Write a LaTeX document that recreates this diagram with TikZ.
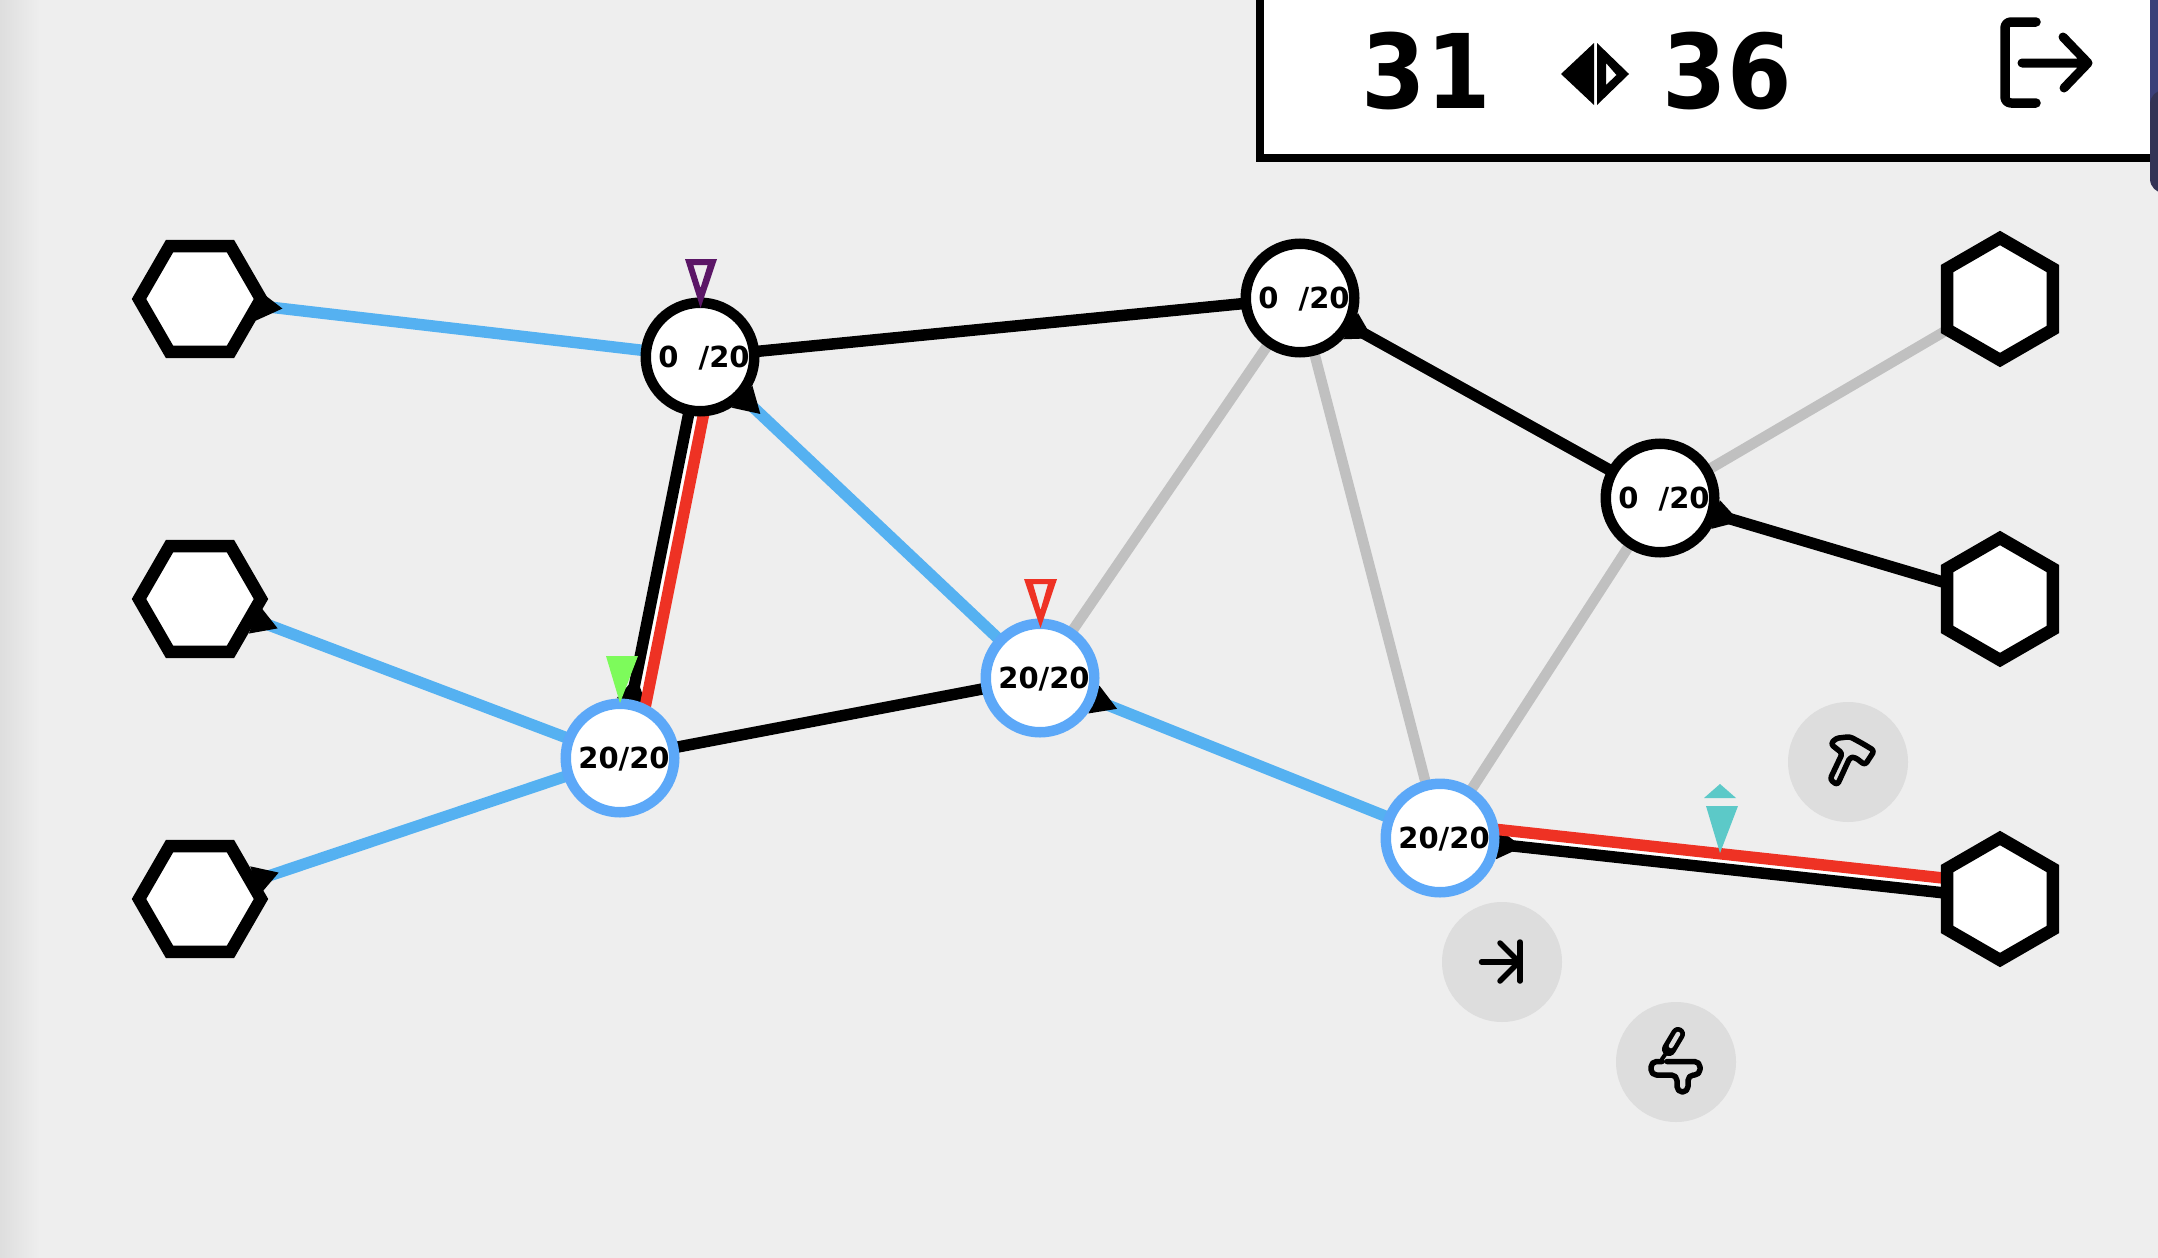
\documentclass[tikz,border=0pt]{standalone}
\usepackage{fontspec}
\setmainfont{DejaVu Sans}[BoldFont={DejaVu Sans Bold}]
\newfontfamily\condf{DejaVu Sans Condensed}[BoldFont={DejaVu Sans Condensed Bold}]
\usetikzlibrary{shapes.geometric,calc}
\definecolor{bgc}{HTML}{EEEEEE}
\definecolor{bluee}{HTML}{55B1F1}
\definecolor{bluen}{HTML}{5CA8F8}
\definecolor{grayy}{HTML}{C0C0C0}
\definecolor{redd}{HTML}{EE3224}
\definecolor{purp}{HTML}{5B1666}
\definecolor{greenn}{HTML}{7DFB5B}
\definecolor{teal2}{HTML}{5CC9C8}
\definecolor{btn}{HTML}{DDDDDD}
\definecolor{navy1}{HTML}{3A3F78}
\definecolor{navy2}{HTML}{333355}
\pgfdeclarelayer{bgl}\pgfdeclarelayer{edgel}
\pgfsetlayers{bgl,edgel,main}
\tikzset{
 x=1pt,y=-1pt,
 hexn/.style={regular polygon,regular polygon sides=6,draw=black,fill=white,line width=12.5pt,minimum size=122pt,inner sep=0pt,outer sep=0pt},
 hexpoint/.style={hexn,shape border rotate=30},
 cnode/.style={circle,fill=white,line width=10.5pt,minimum size=108.5pt,inner sep=0pt,outer sep=0pt},
 cblack/.style={cnode,draw=black},
 cblue/.style={cnode,draw=bluen},
 lbl/.style={yshift=-1.5pt,xshift=4pt,font=\fontsize{29}{30}\selectfont\bfseries},
 btnn/.style={circle,fill=btn,minimum size=120pt,inner sep=0pt,outer sep=0pt},
 eblue/.style={draw=bluee,line width=11.5pt},
 eblack/.style={draw=black,line width=11.5pt},
 egray/.style={draw=grayy,line width=10.5pt},
 ered/.style={draw=redd,line width=11.5pt},
 ewhite/.style={draw=white,line width=5pt},
 icon/.style={draw=black,line width=5.5pt,line cap=round,line join=round},
 bigt/.style={font=\condf\fontsize{103}{110}\selectfont\bfseries,anchor=base,inner sep=0pt},
}
\newcommand{\tiparrow}[2]{%
 \coordinate (tm) at ($(#1.center)!58pt!(#2.center)$);
 \fill[black] ($(#1.center)!83pt!(#2.center)$) -- ($(tm)!15pt!90:(#2.center)$) -- ($(tm)!15pt!-90:(#2.center)$) -- cycle;}
\begin{document}
\begin{tikzpicture}
\useasboundingbox (0,0) rectangle (2158,1258);
\begin{pgfonlayer}{bgl}
 \fill[bgc] (0,0) rectangle (2158,1258);
 \shade[left color=black!13,right color=bgc,shading angle=90,draw=none] (0,0) rectangle (40,1258);
\end{pgfonlayer}
% nodes
\node[hexn] (h1) at (200,299) {};
\node[hexn] (h2) at (200,599) {};
\node[hexn] (h3) at (200,899) {};
\node[hexpoint] (h4) at (2000,299) {};
\node[hexpoint] (h5) at (2000,599) {};
\node[hexpoint] (h6) at (2000,899) {};
\node[cblack] (a) at (700,357) {};
\node[cblue] (b) at (620,758) {};
\node[cblue] (c) at (1040,678) {};
\node[cblack] (d) at (1300,298) {};
\node[cblack] (e) at (1660,498) {};
\node[cblue] (f) at (1440,838) {};
\path (a.center) node[lbl] (ta) {0~~/20};
\path (b.center) node[lbl] (tb) {20/20};
\path (c.center) node[lbl] (tc) {20/20};
\path (d.center) node[lbl] (td) {0~~/20};
\path (e.center) node[lbl] (te) {0~~/20};
\path (f.center) node[lbl] (tf) {20/20};
\begin{pgfonlayer}{edgel}
 \draw[egray] (d) -- (c);
 \draw[egray] (d) -- (f);
 \draw[egray] (e) -- (f);
 \draw[egray] (e) -- (h4);
 \draw[eblue] (h1) -- (a);
 \draw[eblue] (h2) -- (b);
 \draw[eblue] (h3) -- (b);
 \draw[eblue] (a) -- (c);
 \draw[eblue] (c) -- (f);
 \draw[eblack] (a) -- (d);
 \draw[eblack] (b) -- (c);
 \draw[eblack] (d) -- (e);
 \draw[eblack] (e) -- (h5);
 \draw[ewhite] ($(b.center)!7.3pt!-90:(a.center)$) -- ($(a.center)!7.3pt!90:(b.center)$);
 \draw[eblack] (b) -- (a);
 \draw[ewhite] ($(f.center)!7.3pt!90:(h6.center)$) -- ($(h6.center)!7.3pt!-90:(f.center)$);
 \draw[eblack] (f) -- (h6);
 \tiparrow{h1}{a}\tiparrow{h2}{b}\tiparrow{h3}{b}\tiparrow{a}{c}\tiparrow{c}{f}
 \tiparrow{b}{a}\tiparrow{f}{h6}\tiparrow{d}{e}\tiparrow{e}{h5}
 \draw[ered] ($(b.center)!14.7pt!-90:(a.center)$) -- ($(a.center)!14.7pt!90:(b.center)$);
 \draw[ered] ($(f.center)!14.7pt!90:(h6.center)$) -- ($(h6.center)!14.7pt!-90:(f.center)$);
\end{pgfonlayer}
% markers
\fill[purp,even odd rule] (685,259) -- (717,259) -- (700.5,308) -- cycle (693.3,265) -- (707.7,265) -- (700.5,288) -- cycle;
\fill[redd,even odd rule] (1024,579) -- (1057,579) -- (1040.5,628) -- cycle (1033,584) -- (1048,584) -- (1040.5,610) -- cycle;
\fill[greenn] (606,656) -- (638,656) -- (620,703) -- cycle;
\fill[teal2] (1706,806) -- (1738,806) -- (1720,853) -- cycle;
\fill[teal2] (1704,798) -- (1736,798) -- (1720,784) -- cycle;
% buttons
\node[btnn] (bh) at (1848,762) {};
\node[btnn] (ba) at (1502,962) {};
\node[btnn] (bf) at (1676,1062) {};
% arrow-bar icon
\draw[icon] (1481.5,962) -- (1519,962);
\draw[icon] (1520,942) -- (1520,981);
\draw[icon] (1500,943) -- (1519,962) -- (1500,981);
% hammer icon
\draw[icon,rounded corners=3pt] (1830,779.3) -- (1842.3,753.3) -- (1830.7,744) -- (1836,738.3) -- (1850,736.7) -- (1863.3,744) -- (1874.3,750.7) -- (1865,765) -- (1855,757.3) -- (1850,757.3) -- (1837.3,785) -- cycle;
% fill icon
\draw[black,line width=14pt,line cap=round] (1678,1034) -- (1669,1049);
\draw[black,line width=4pt,line cap=round] (1669,1049) -- (1662,1059);
\draw[btn,line width=4.5pt,line cap=round] (1678,1034) -- (1671,1046);
\draw[icon,rounded corners=5.5pt] (1667,1061.5) -- (1700,1061.5) -- (1700,1075) -- (1688,1075) -- (1688,1092) -- (1677,1092) -- (1677,1075) -- (1651,1075) -- (1651,1061.5) -- (1662,1061.5);
% top box
\fill[navy1] (2150,0) rectangle (2158,102);
\fill[navy2,rounded corners=14pt] (2150,90) -- (2150,193) -- (2175,193) -- (2175,90) -- cycle;
\fill[white] (1260,-10) rectangle (2150,158);
\draw[black,line width=8pt] (1260,-10) -- (1260,158) -- (2150,158);
\node[bigt] (t31) at (1426,108) {31};
\node[bigt] (t36) at (1727,108) {36};
\fill[black] (1561,74) -- (1594,43) -- (1594,105) -- cycle;
\fill[black,even odd rule] (1597,43) -- (1629,74) -- (1597,105) -- cycle (1606,63) -- (1616.5,75) -- (1606,85) -- cycle;
\draw[black,line width=9.5pt,line cap=round,line join=round,rounded corners=6pt] (2036,22) -- (2005,22) -- (2005,103) -- (2036,103);
\draw[black,line width=9pt,line cap=round,line join=round] (2022,63) -- (2087,63) (2063,37) -- (2088,63) -- (2064,88);
\end{tikzpicture}
\end{document}
